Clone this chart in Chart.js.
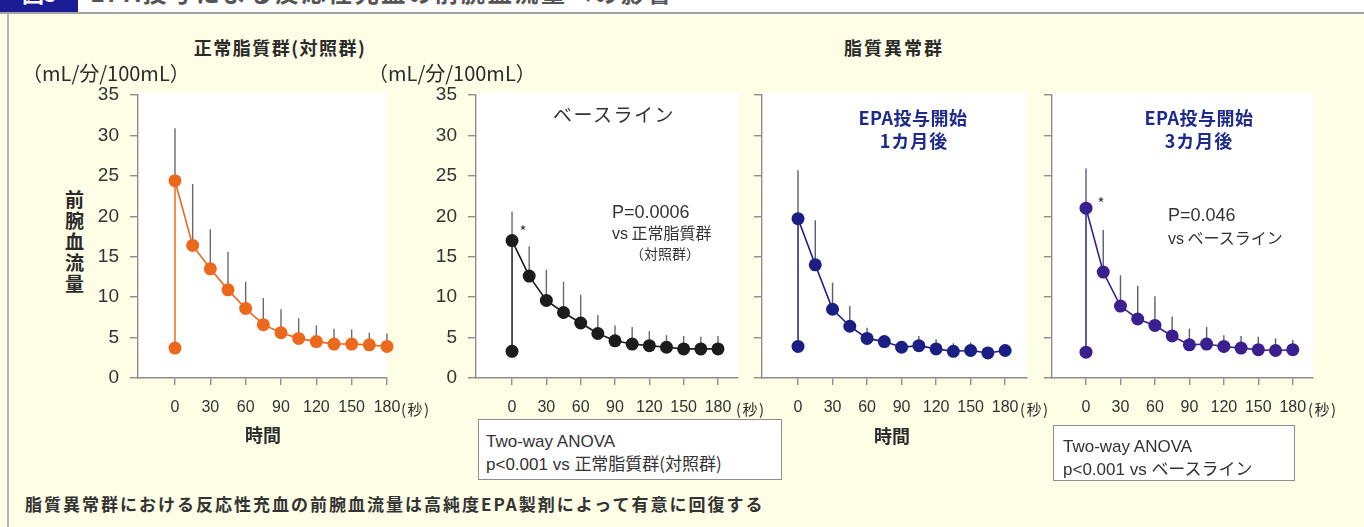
<!DOCTYPE html>
<html>
<head>
<meta charset="utf-8">
<script src="https://cdn.jsdelivr.net/npm/chart.js@4.4.1/dist/chart.umd.min.js"></script>
<style>
  html, body { margin: 0; padding: 0; }
  body {
    width: 1364px; height: 527px; position: relative; overflow: hidden;
    background: #fefde6;
    font-family: "Noto Sans CJK JP", "Liberation Sans", sans-serif;
    color: #2b2b2b;
  }
  #topbar { position: absolute; left: 0; top: 0; width: 1364px; height: 12px; background: #fff; overflow: hidden; border-bottom: 2px solid #a2a2ac; }
  #figno { position: absolute; left: 0; top: 0; width: 78px; height: 12px; background: #1c1c94; overflow: hidden; }
  #leftrule { position: absolute; left: 7px; top: 14px; width: 1.5px; height: 513px; background: #b4b4b8; }
  canvas { position: absolute; }
  .t { position: absolute; white-space: nowrap; line-height: 1; }
  .c { transform: translate(-50%, -50%); }
  .l { transform: translateY(-50%); }
  .num { font-family: "Liberation Sans", sans-serif; }
  .box { position: absolute; background: #fff; border: 1px solid #8e8e8e; }
</style>
</head>
<body>
<div id="topbar">
  <div id="figno"><span class="t" style="left:22px;top:-19px;font-size:22px;font-weight:bold;color:#fff;">図5</span></div>
  <span class="t" style="left:90px;top:-20px;font-size:24px;font-weight:bold;letter-spacing:2.6px;color:#555;">EPA投与による反応性充血の前腕血流量への影響</span>
</div>
<div id="leftrule"></div>

<canvas id="pControl"></canvas>
<canvas id="pBaseline"></canvas>
<canvas id="pMonth1"></canvas>
<canvas id="pMonth3"></canvas>

<!-- group headings and axis titles -->
<div class="t c" style="left:280px;top:47px;font-size:18px;font-weight:bold;letter-spacing:1.5px;">正常脂質群(対照群)</div>
<div class="t c" style="left:894px;top:47px;font-size:18px;font-weight:bold;letter-spacing:2px;">脂質異常群</div>
<div class="t l" style="left:22px;top:73px;font-size:20px;">（mL/分/100mL）</div>
<div class="t l" style="left:368px;top:73px;font-size:20px;">（mL/分/100mL）</div>
<div class="t" style="left:64px;top:188px;font-size:19px;font-weight:bold;line-height:21px;text-align:center;width:21px;">前<br>腕<br>血<br>流<br>量</div>
<div class="t c" style="left:263px;top:434px;font-size:18px;font-weight:bold;">時間</div>
<div class="t c" style="left:892px;top:435px;font-size:18px;font-weight:bold;">時間</div>

<!-- seconds unit after the last time tick -->
<div class="t l" style="left:401px;top:408px;font-size:15px;letter-spacing:1.5px;">(秒)</div>
<div class="t l" style="left:736px;top:408px;font-size:15px;letter-spacing:1.5px;">(秒)</div>
<div class="t l" style="left:1020px;top:408px;font-size:15px;letter-spacing:1.5px;">(秒)</div>
<div class="t l" style="left:1308px;top:408px;font-size:15px;letter-spacing:1.5px;">(秒)</div>

<!-- panel captions -->
<div class="t c" style="left:614px;top:113px;font-size:19px;letter-spacing:1.5px;color:#333;">ベースライン</div>
<div class="t l num" style="left:612px;top:212px;font-size:18px;color:#333;">P=0.0006</div>
<div class="t l" style="left:612px;top:233px;font-size:16px;color:#333;"><span class="num">vs</span> 正常脂質群</div>
<div class="t l" style="left:630px;top:253px;font-size:14px;color:#333;">（対照群）</div>
<div class="t c" style="left:523px;top:230px;font-size:15px;color:#333;">*</div>

<div class="t c" style="left:913px;top:117px;font-size:18px;font-weight:bold;letter-spacing:0.5px;color:#1e2a8c;">EPA投与開始</div>
<div class="t c" style="left:914px;top:140px;font-size:18px;font-weight:bold;letter-spacing:1px;color:#1e2a8c;">1カ月後</div>

<div class="t c" style="left:1199px;top:117px;font-size:18px;font-weight:bold;letter-spacing:0.5px;color:#1e2a8c;">EPA投与開始</div>
<div class="t c" style="left:1199px;top:140px;font-size:18px;font-weight:bold;letter-spacing:1px;color:#1e2a8c;">3カ月後</div>
<div class="t l num" style="left:1168px;top:215px;font-size:18px;color:#333;">P=0.046</div>
<div class="t l" style="left:1168px;top:238px;font-size:16px;color:#333;"><span class="num">vs</span> ベースライン</div>
<div class="t c" style="left:1101px;top:202px;font-size:15px;color:#333;">*</div>

<!-- statistics boxes -->
<div class="box" style="left:478px;top:419px;width:302px;height:59px;"></div>
<div class="t l num" style="left:486px;top:441px;font-size:17px;color:#333;">Two-way ANOVA</div>
<div class="t l" style="left:486px;top:463px;font-size:17px;color:#333;"><span class="num">p&lt;0.001 vs </span>正常脂質群(対照群)</div>

<div class="box" style="left:1053px;top:425px;width:240px;height:54px;"></div>
<div class="t l num" style="left:1063px;top:446px;font-size:17px;color:#333;">Two-way ANOVA</div>
<div class="t l" style="left:1063px;top:468px;font-size:17px;color:#333;"><span class="num">p&lt;0.001 vs </span>ベースライン</div>

<!-- footnote -->
<div class="t l" style="left:25px;top:503px;font-size:17px;font-weight:bold;letter-spacing:2px;color:#333;">脂質異常群における反応性充血の前腕血流量は高純度EPA製剤によって有意に回復する</div>

<script>
// Sampling times after cuff release (s); rest value is plotted at time 0 too
const seconds = [0, 15, 30, 45, 60, 75, 90, 105, 120, 135, 150, 165, 180];
const timeTicks = [0, 30, 60, 90, 120, 150, 180];
const flowTicks = [0, 5, 10, 15, 20, 25, 30, 35];

// Normolipidemic controls
const controlRest = 3.7;
const controlMean = [24.4, 16.4, 13.5, 10.9, 8.6, 6.6, 5.6, 4.9, 4.5, 4.2, 4.2, 4.1, 3.9];
const controlSD   = [6.5, 7.6, 4.9, 4.7, 3.3, 3.3, 2.9, 2.5, 2.0, 1.9, 1.8, 1.5, 1.6];

// Dyslipidemia, baseline
const baselineRest = 3.3;
const baselineMean = [17.0, 12.6, 9.6, 8.1, 6.8, 5.5, 4.6, 4.2, 4.0, 3.8, 3.6, 3.6, 3.6];
const baselineSD   = [3.6, 3.7, 3.8, 3.8, 3.5, 2.3, 1.9, 2.1, 1.8, 1.5, 1.6, 1.5, 1.6];

// Dyslipidemia, 1 month on EPA
const month1Rest = 3.9;
const month1Mean = [19.7, 14.0, 8.5, 6.4, 4.9, 4.5, 3.8, 4.0, 3.6, 3.3, 3.4, 3.1, 3.4];
const month1SD   = [6.0, 5.5, 3.3, 2.5, 1.3, 0.6, 0.7, 1.2, 1.2, 1.0, 1.0, 0.7, 0.6];

// Dyslipidemia, 3 months on EPA
const month3Rest = 3.2;
const month3Mean = [21.0, 13.1, 8.9, 7.3, 6.5, 5.2, 4.1, 4.2, 3.9, 3.7, 3.5, 3.4, 3.5];
const month3SD   = [4.9, 5.2, 3.8, 4.1, 3.6, 2.4, 2.0, 2.1, 1.4, 1.5, 1.6, 1.5, 1.2];

const AXIS = '#8e8e8e';
const INK = '#333333';

// white plotting field behind each panel
const plotField = {
  id: 'plotField',
  beforeDraw(chart) {
    const { ctx, chartArea: a } = chart;
    ctx.save();
    ctx.fillStyle = '#ffffff';
    ctx.fillRect(a.left, a.top - 2, a.right - a.left, a.bottom - a.top + 2);
    ctx.restore();
  }
};

// upward SD whiskers
const sdWhiskers = {
  id: 'sdWhiskers',
  beforeDatasetsDraw(chart, args, opts) {
    const { ctx, scales: { x, y } } = chart;
    ctx.save();
    ctx.strokeStyle = opts.color;
    ctx.lineWidth = 1.4;
    seconds.forEach((s, i) => {
      const px = x.getPixelForValue(s);
      ctx.beginPath();
      ctx.moveTo(px, y.getPixelForValue(opts.mean[i]));
      ctx.lineTo(px, y.getPixelForValue(opts.mean[i] + opts.sd[i]));
      ctx.stroke();
    });
    ctx.restore();
  }
};

function drawPanel(id, p) {
  const yW = 50, padR = 34, top = 85, height = 340;
  const cv = document.getElementById(id);
  cv.width = yW + p.plotW + padR;
  cv.height = height;
  cv.style.left = (p.axisX - yW) + 'px';
  cv.style.top = top + 'px';

  const pts = seconds.map((s, i) => ({ x: s, y: p.mean[i] }));
  new Chart(cv, {
    type: 'line',
    data: {
      datasets: [
        {
          data: [{ x: 0, y: p.rest }, { x: 0, y: p.mean[0] }],
          borderColor: p.color, borderWidth: 1.5,
          pointRadius: [6.5, 0], pointBackgroundColor: p.color, pointBorderWidth: 0,
          clip: false
        },
        {
          data: pts,
          borderColor: p.color, borderWidth: 1.6, tension: 0,
          pointRadius: 6.5, pointBackgroundColor: p.color, pointBorderWidth: 0,
          clip: false
        }
      ]
    },
    options: {
      responsive: false, animation: false, devicePixelRatio: 1,
      layout: { padding: { top: 10, right: padR, left: 0, bottom: 0 } },
      plugins: {
        legend: { display: false }, tooltip: { enabled: false },
        sdWhiskers: { mean: p.mean, sd: p.sd, color: p.whisker }
      },
      scales: {
        x: {
          type: 'linear', min: p.xMin, max: p.xMax,
          afterBuildTicks: s => { s.ticks = timeTicks.map(v => ({ value: v })); },
          afterFit: s => { s.height = 47; s.paddingLeft = 0; s.paddingRight = 0; },
          grid: { drawOnChartArea: false, drawTicks: true, tickLength: 7, color: AXIS, lineWidth: 1.4 },
          border: { display: true, color: AXIS, width: 1.4 },
          ticks: { color: INK, font: { family: 'Liberation Sans', size: 16 }, padding: 13, maxRotation: 0, autoSkip: false }
        },
        y: {
          min: 0, max: 35,
          afterBuildTicks: s => { s.ticks = flowTicks.map(v => ({ value: v })); },
          afterFit: s => { s.width = yW; s.paddingTop = 0; s.paddingBottom = 0; },
          grid: { drawOnChartArea: false, drawTicks: true, tickLength: 8, color: AXIS, lineWidth: 1.4 },
          border: { display: true, color: AXIS, width: 1.4 },
          ticks: { color: p.yLabels ? INK : 'rgba(0,0,0,0)', font: { family: 'Liberation Sans', size: 19 }, padding: 11 }
        }
      }
    },
    plugins: [plotField, sdWhiskers]
  });
}

drawPanel('pControl',  { axisX: 138,  plotW: 249, xMin: -31.4, xMax: 180,   mean: controlMean,  sd: controlSD,  rest: controlRest,  color: '#ec681d', whisker: '#6a6a6a', yLabels: true });
drawPanel('pBaseline', { axisX: 476,  plotW: 262, xMin: -31.5, xMax: 197.5, mean: baselineMean, sd: baselineSD, rest: baselineRest, color: '#1c1c1c', whisker: '#6a6a6a', yLabels: true });
drawPanel('pMonth1',   { axisX: 762,  plotW: 265, xMin: -31.3, xMax: 199,   mean: month1Mean,   sd: month1SD,   rest: month1Rest,   color: '#1b1f84', whisker: '#5c5c70', yLabels: false });
drawPanel('pMonth3',   { axisX: 1052, plotW: 261, xMin: -29.6, xMax: 197.6, mean: month3Mean,   sd: month3SD,   rest: month3Rest,   color: '#3a1f8e', whisker: '#5c5c70', yLabels: false });
</script>
</body>
</html>
